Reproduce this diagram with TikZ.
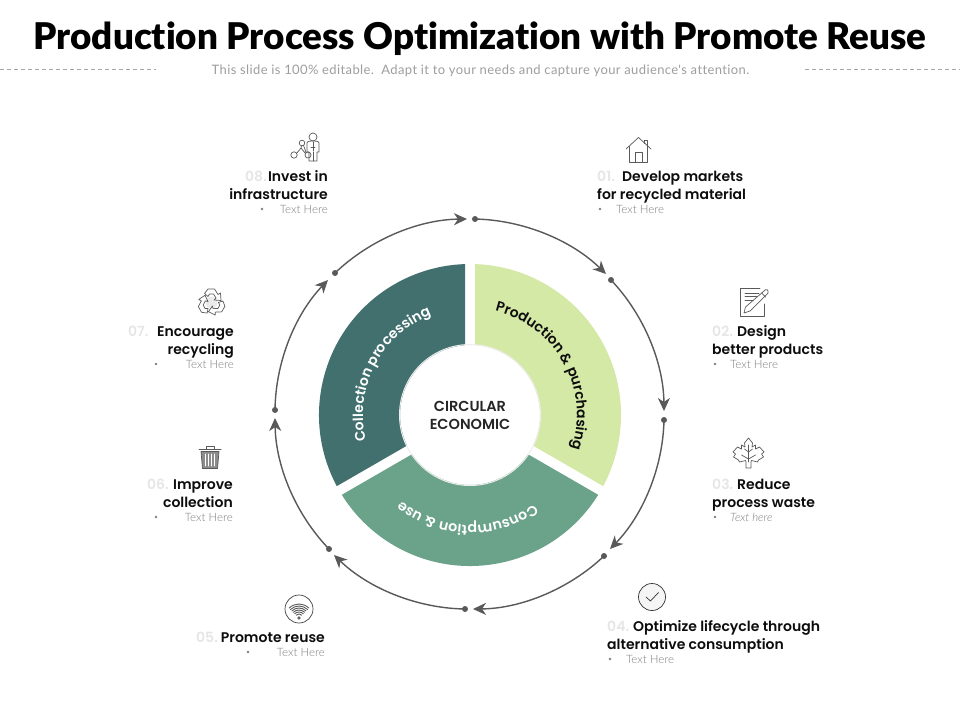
\documentclass[tikz,border=0pt]{standalone}
\usepackage{fontspec}
\usetikzlibrary{arrows.meta,decorations.text}
\setmainfont{Poppins}
\newfontfamily\titlefont{Lato Black}[Ligatures=NoCommon]
\newfontfamily\subfont{Lato}[LetterSpace=3,Ligatures=NoCommon]
\newfontfamily\labfont{Poppins SemiBold}
\newfontfamily\bodyfont{Lato Light}[Ligatures=NoCommon]
\definecolor{ink}{HTML}{0D0D0D}
\definecolor{teal}{HTML}{41706F}
\definecolor{leaf}{HTML}{D4E9A5}
\definecolor{sage}{HTML}{6AA38A}
\definecolor{ring}{HTML}{595959}
\definecolor{num}{HTML}{E6E6E6}
\definecolor{soft}{HTML}{7F7F7F}
\definecolor{icon}{HTML}{5A5A5A}
\tikzset{
  x=1pt,y=1pt,
  head/.style={font=\fontsize{14}{17}\labfont,text=ink,inner sep=0pt},
  numb/.style={font=\fontsize{14}{17}\labfont,text=num,inner sep=0pt},
  body/.style={font=\fontsize{11.5}{13}\bodyfont,text=soft,inner sep=0pt},
  bull/.style={circle,fill=soft,inner sep=0pt,minimum size=2.6pt},
  dotnode/.style={circle,fill=ring,inner sep=0pt,minimum size=6pt},
  flow/.style={draw=ring,line width=1.4pt,-{Stealth[length=13pt,width=12pt,inset=4pt]},bend left=21.5,looseness=.87},
  ico/.style={draw=icon,line width=.7pt,line join=round,line cap=round},
  rim/.style={decorate,decoration={text along path,text align=center,raise=0pt}}
}
\newcommand{\labR}[9]{% x, y1, num, numx, line1, line2, bullet x, name, text
  \node[numb,anchor=base west] (#8n) at (#4,#2-5) {#3};
  \node[head,anchor=base east] (#8a) at (#1,#2-5) {#5};
  \node[head,anchor=base east] (#8b) at (#1,#2-23) {#6};
  \node[bull] (#8d) at (#7,#2-33) {};
  \node[body,anchor=east] (#8t) at (#1,#2-33) {#9};
}
\newcommand{\labL}[9]{% x, y1, num, headx, line1, line2, text x, name, text
  \node[numb,anchor=base west] (#8n) at (#1,#2-5) {#3};
  \node[head,anchor=base west] (#8a) at (#4,#2-5) {#5};
  \node[head,anchor=base west] (#8b) at (#1,#2-23) {#6};
  \node[bull] (#8d) at (#1+3,#2-33) {};
  \node[body,anchor=west] (#8t) at (#7,#2-33) {#9};
}
\begin{document}
\begin{tikzpicture}
\useasboundingbox (0,0) rectangle (960,-720);
\fill[white] (0,0) rectangle (960,-720);
% header
\node[font=\fontsize{36.8}{40}\titlefont,text=black,inner sep=0pt] (title) at (480,-38.5) {Production Process Optimization with Promote Reuse};
\node[font=\fontsize{13}{15}\subfont,text=black!38,inner sep=0pt] (sub) at (480.5,-71) {This slide is 100\% editable.\ \ Adapt it to your needs and capture your audience's attention.};
\coordinate (l1) at (0,-69); \coordinate (l2) at (156,-69);
\coordinate (r1) at (805,-69); \coordinate (r2) at (960,-69);
\draw[black!35,line width=.5pt,dash pattern=on 4pt off 3pt] (l1) -- (l2);
\draw[black!35,line width=.5pt,dash pattern=on 4pt off 3pt] (r1) -- (r2);

% ring of arrows
\foreach \n/\x/\y in {1/475/219,2/611/280,3/664/420,4/604/556,5/465/609,6/329/549,7/275/410,8/335/273}
  \node[dotnode] (d\n) at (\x,-\y) {};
\coordinate (t1) at (606,-274);
\coordinate (t2) at (664,-411);
\coordinate (t3) at (610,-549);
\coordinate (t4) at (473,-609);
\coordinate (t5) at (334,-555);
\coordinate (t6) at (275,-418);
\coordinate (t7) at (328,-280);
\coordinate (t8) at (467,-219);
\foreach \n in {1,...,8} \draw[flow] (d\n.center) to (t\n);

% wheel
\begin{scope}[shift={(470,-415)}]
\fill[leaf] (88.1:151) arc[start angle=88.1,end angle=-28.1,radius=151] -- (-25.9:70) arc[start angle=-25.9,end angle=85.9,radius=70] -- cycle;
\fill[sage] (-31.9:151) arc[start angle=-31.9,end angle=-148.1,radius=151] -- (-145.9:70) arc[start angle=-145.9,end angle=-34.1,radius=70] -- cycle;
\fill[teal] (208.1:151) arc[start angle=208.1,end angle=91.9,radius=151] -- (94.1:70) arc[start angle=94.1,end angle=205.9,radius=70] -- cycle;
\draw[black!7,line width=1pt] (0,0) circle[radius=70.5];
\path[rim,decoration={text={|\fontsize{14}{16}\labfont\color{ink}|Production {\&} purchasing}}] (100:107) arc[start angle=100,end angle=-42,radius=107];
\path[rim,decoration={text={|\fontsize{14.2}{16}\labfont\color{white}|Consumption {\&} use}}] (-20:110) arc[start angle=-20,end angle=-163,radius=110];
\path[rim,decoration={text={|\fontsize{14}{16}\labfont\color{white}|Collection processing}}] (225:107) arc[start angle=225,end angle=80,radius=107];
\end{scope}
\node[font=\fontsize{14.5}{18}\labfont,text=black!85,align=center,inner sep=0pt] (hub) at (470,-415) {CIRCULAR\\ECONOMIC};

% labels
\labL{597}{-176}{01.}{622}{Develop markets}{for recycled material}{616}{a}{Text Here}
\labL{712}{-331}{02.}{737}{Design}{better products}{730}{b}{Text Here}
\labL{712}{-484}{03.}{737}{Reduce}{process waste}{730}{c}{\itshape Text here}
\labL{607}{-626}{04.}{633}{Optimize lifecycle through}{alternative consumption}{626}{e}{Text Here}
\labR{328}{-176}{08.}{245}{Invest in}{infrastructure}{262}{h}{Text Here}
\labR{234}{-331}{07.}{128}{Encourage}{recycling}{156}{g}{Text Here}
\labR{233}{-484}{06.}{147}{Improve}{collection}{156}{f}{Text Here}
% 05 single line
\node[numb,anchor=base west] (pn) at (196,-642) {05.};
\node[head,anchor=base east] (pa) at (325,-642) {Promote reuse};
\node[bull] (pd) at (248,-652) {};
\node[body,anchor=east] (pt) at (325,-652) {Text Here};

% house
\begin{scope}[shift={(638.5,-150)},ico]
\draw (-12.5,1) -- (0,12.5) -- (12.5,1);
\draw (-9,3.5) -- (-9,-12) -- (9,-12) -- (9,3.5);
\draw (-3.5,-12) -- (-3.5,-2) -- (3.5,-2) -- (3.5,-12);
\draw (6,6.5) -- (6,10) -- (9,10) -- (9,3.5);
\end{scope}
% document and pencil
\begin{scope}[shift={(754,-302)},ico]
\draw (10,-2) -- (10,-14) -- (-14,-14) -- (-14,14) -- (6,14);
\draw (-9,9) -- (5,9); \draw (-9,5.5) -- (3,5.5); \draw (-9,2) -- (-1,2);
\draw (-10,-11) -- (-8.5,-5) -- (10,11) .. controls (12,14) and (15,12) .. (14,9) -- (-4,-9) -- cycle;
\draw (7.5,9) -- (11.5,5);
\end{scope}
% maple leaf
\begin{scope}[shift={(748.5,-453)},ico]
\draw (0,15) -- (-4,10) -- (-3.5,6) -- (-7,8) -- (-7,4) -- (-11,6) -- (-15.5,1) -- (-13,-1) -- (-15,-4) -- (-10,-7) -- (-9,-9) -- (-3,-7.5) -- (-2.5,-9) -- (-2.5,-15) -- (2.5,-15) -- (2.5,-9) -- (3,-7.5) -- (9,-9) -- (10,-7) -- (15,-4) -- (13,-1) -- (15.5,1) -- (11,6) -- (7,4) -- (7,8) -- (3.5,6) -- (4,10) -- cycle;
\draw (0,-9) -- (0,8);
\draw (-7,-2) -- (0,-6) -- (7,-2);
\draw (-4,4) -- (0,1) -- (4,4);
\end{scope}
% check
\begin{scope}[shift={(652,-597)},ico]
\draw[fill=black!4,draw=black!80] (0,0) circle[radius=13.5];
\draw[draw=black!80] (-6,0) -- (-1.5,-4) -- (6.5,4.5);
\end{scope}
% wifi
\begin{scope}[shift={(299,-618)},ico]
\foreach \r in {4,6,8,10,12,14}
  \draw[line width=.9pt] (45:\r) arc[start angle=45,end angle=135,radius=\r];
\draw[line width=.8pt] (0,0) circle[radius=1.3];
\end{scope}
\draw[ico,draw=black!75] (299,-609) circle[radius=14];
% trash
\begin{scope}[shift={(210,-457.5)},ico]
\draw[fill=black!45] (-9,6) -- (-7.5,-11) -- (7.5,-11) -- (9,6) -- cycle;
\foreach \x in {-4.5,-1.5,1.5,4.5} \draw[draw=white,line width=.9pt] (\x,3.5) -- (\x,-8.5);
\draw[line width=1pt] (-11,8) -- (11,8);
\draw (-4,8) -- (-4,11) -- (4,11) -- (4,8);
\end{scope}
% recycle: three outlined chasing arrows
\begin{scope}[shift={(211.5,-302.5)},ico]
\fill[black!8] (0,0) circle[radius=6];
\foreach \a in {0,120,240}{
  \draw[rotate=\a] (-7,9) -- (-3.5,13.5) -- (3,13.5) -- (6.5,8) -- (9,9.5) -- (9.5,2) -- (2.5,2.5) -- (4.5,4.5) -- (2,8.5) -- (-2,8.5) -- (-3.5,6) -- cycle;
}
\end{scope}
% investor
\begin{scope}[shift={(305,-147)},ico]
\draw (8,10) circle[radius=4];
\draw (2,4) -- (2,-5) -- (4,-5) -- (4,-14) -- (12,-14) -- (12,-5) -- (14,-5) -- (14,4) .. controls (14,6) and (10,6) .. (8,6) .. controls (6,6) and (2,6) .. (2,4) -- cycle;
\draw (8,-14) -- (8,-5); \draw (8,5) -- (8,-4); \draw (6,0) -- (10,0);
\draw (-3,4) circle[radius=2.8];
\draw (-11,-8) circle[radius=3.2];
\draw (3,-8) circle[radius=3];
\draw (-8.5,-6.5) -- (-4,-1) -- (-3.5,1.2); \draw (-4,-1) -- (0.5,-6.5); \draw (-1.5,1.8) -- (1,-5.5);
\end{scope}
\end{tikzpicture}
\end{document}
